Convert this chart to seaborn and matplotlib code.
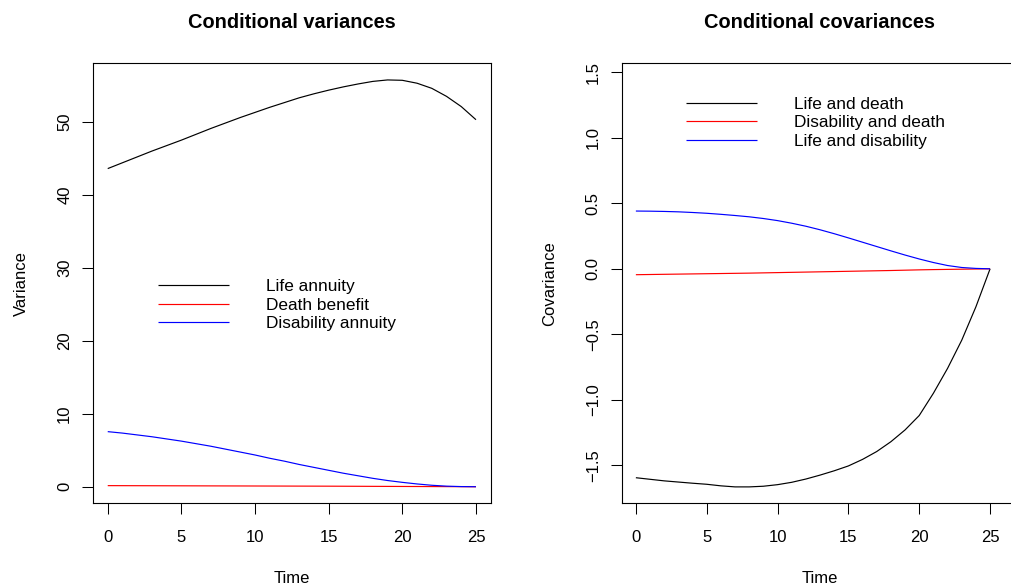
import matplotlib
matplotlib.use("Agg")
import matplotlib.pyplot as plt
import seaborn as sns

# ---------------- data ----------------
time = list(range(26))

life_annuity = [43.6, 44.4, 45.2, 46.0, 46.75, 47.5, 48.3, 49.1, 49.85, 50.6,
                51.3, 52.0, 52.65, 53.3, 53.85, 54.35, 54.8, 55.2, 55.55, 55.75,
                55.7, 55.3, 54.6, 53.5, 52.1, 50.3]
death_benefit = [0.15, 0.145, 0.14, 0.135, 0.13, 0.125, 0.12, 0.115, 0.11, 0.105,
                 0.1, 0.095, 0.09, 0.085, 0.08, 0.075, 0.068, 0.06, 0.052, 0.045,
                 0.037, 0.03, 0.022, 0.015, 0.007, 0.0]
disability_annuity = [7.55, 7.35, 7.1, 6.85, 6.55, 6.25, 5.9, 5.55, 5.15, 4.75,
                      4.35, 3.9, 3.5, 3.05, 2.65, 2.25, 1.85, 1.5, 1.15, 0.85,
                      0.6, 0.38, 0.2, 0.08, 0.02, 0.0]

life_death = [-1.595, -1.607, -1.619, -1.628, -1.637, -1.645, -1.657, -1.665, -1.665, -1.66,
              -1.648, -1.63, -1.605, -1.575, -1.542, -1.505, -1.455, -1.395, -1.32, -1.23,
              -1.12, -0.95, -0.76, -0.545, -0.29, 0.0]
disability_death = [-0.045, -0.0435, -0.042, -0.0405, -0.039, -0.0375, -0.036, -0.0345, -0.033, -0.031,
                    -0.029, -0.027, -0.025, -0.023, -0.021, -0.019, -0.017, -0.015, -0.013, -0.0105,
                    -0.008, -0.006, -0.0045, -0.003, -0.0015, 0.0]
life_disability = [0.441, 0.440, 0.438, 0.435, 0.430, 0.424, 0.416, 0.407, 0.397, 0.384,
                   0.368, 0.348, 0.325, 0.298, 0.268, 0.236, 0.203, 0.170, 0.137, 0.105,
                   0.075, 0.048, 0.025, 0.010, 0.003, 0.0]

var_labels = ["Life annuity", "Death benefit", "Disability annuity"]
cov_labels = ["Life and death", "Disability and death", "Life and disability"]
series_colors = ["black", "red", "blue"]
x_ticks = [0, 5, 10, 15, 20, 25]
var_ticks = [0, 10, 20, 30, 40, 50]
cov_ticks = [-1.5, -1.0, -0.5, 0.0, 0.5, 1.0, 1.5]

# ---------------- style ----------------
sns.set_theme(style="white")
plt.rcParams["font.family"] = ["Liberation Sans", "DejaVu Sans"]
plt.rcParams["axes.unicode_minus"] = True
plt.rcParams["text.color"] = "black"
plt.rcParams["axes.labelcolor"] = "black"
plt.rcParams["xtick.color"] = "black"
plt.rcParams["ytick.color"] = "black"
plt.rcParams["lines.solid_capstyle"] = "butt"

W, H = 1011, 588
fig = plt.figure(figsize=(W / 100, H / 100), dpi=100)
fig.patch.set_facecolor("white")


def px_axes(l, t, r, b):
    return fig.add_axes([l / W, 1 - b / H, (r - l) / W, (b - t) / H])


ax1 = px_axes(93, 63.3, 490.7, 503)
ax2 = px_axes(621.7, 63.3, 1017, 503)

for vals, lab, col in zip([life_annuity, death_benefit, disability_annuity], var_labels, series_colors):
    sns.lineplot(x=time, y=vals, color=col, label=lab, linewidth=0.85, ax=ax1)
for vals, lab, col in zip([life_death, disability_death, life_disability], cov_labels, series_colors):
    sns.lineplot(x=time, y=vals, color=col, label=lab, linewidth=0.85, ax=ax2)

ax1.set_xlim(-1.0, 26.0)
ax1.set_ylim(-2.23, 58.03)
ax2.set_xlim(-1.0, 26.9)
ax2.set_ylim(-1.788, 1.569)

ax1.set_yticks(var_ticks)
ax2.set_yticks(cov_ticks)

for ax, title, ylab, lx, ly in [
    (ax1, "Conditional variances", "Variance", 0.1634, 0.5095),
    (ax2, "Conditional covariances", "Covariance", 0.1627, 0.9245),
]:
    ax.set_xticks(x_ticks)
    for sp in ax.spines.values():
        sp.set_visible(True)
        sp.set_color("black")
        sp.set_linewidth(0.8)
    ax.tick_params(axis="both", which="major", direction="out", length=8, width=0.75,
                   color="black", labelsize=12, labelcolor="black")
    ax.tick_params(axis="x", pad=11.2, bottom=True)
    ax.tick_params(axis="y", pad=7, left=True)
    plt.setp(ax.get_yticklabels(), rotation=90, va="center", ha="right")
    ax.set_title(title, fontsize=14.4, fontweight="bold", y=1.0796, pad=0, color="black")
    ax.set_xlabel("Time", fontsize=12, color="black")
    ax.set_ylabel(ylab, fontsize=12, color="black")
    ax.xaxis.set_label_coords(0.5, -0.1555)
    ax.yaxis.set_label_coords(-0.162 * 397.7 / (ax.get_position().width * W), 0.5)
    ax.grid(False)
    ax.legend(loc="upper left", bbox_to_anchor=(lx, ly), frameon=False,
              prop={"family": ["Liberation Sans", "DejaVu Sans"], "size": 12.4},
              labelcolor="black",
              handlelength=4.15, handletextpad=2.1, labelspacing=0.2,
              borderpad=0, borderaxespad=0)

fig.savefig("out.png", dpi=100, facecolor="white")
